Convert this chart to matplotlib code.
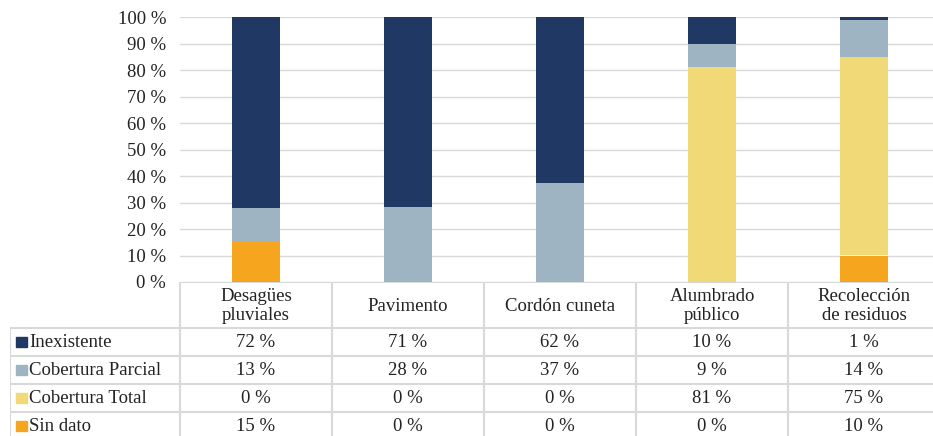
import matplotlib
matplotlib.use("Agg")
import matplotlib.pyplot as plt
import matplotlib.patches as mpatches
import numpy as np

plt.rcParams["font.family"] = ["Liberation Serif", "DejaVu Serif"]

categories = ["Desagües\npluviales", "Pavimento", "Cordón cuneta",
              "Alumbrado\npúblico", "Recolección\nde residuos"]
series = ["Inexistente", "Cobertura Parcial", "Cobertura Total", "Sin dato"]
inexistente = [72, 71, 62, 10, 1]
parcial = [13, 28, 37, 9, 14]
total = [0, 0, 0, 81, 75]
sin_dato = [15, 0, 0, 0, 10]
colors = ["#203864", "#9fb4c3", "#f1d977", "#f6a51e"]

table_vals = [inexistente, parcial, total, sin_dato]
data = np.array(table_vals, dtype=float)
pct = data / data.sum(axis=0) * 100  # 100 % apilado

FS = 13.5
TXT = "#222"
W, H = 933, 436
fig = plt.figure(figsize=(W / 100, H / 100), dpi=100)

# --- gráfico de barras ---
ax = fig.add_axes([180 / W, (H - 282) / H, 760 / W, 265 / H])
x = np.arange(len(categories))
bottom = np.zeros(len(categories))
# orden de apilado: Sin dato abajo, Inexistente arriba
for i in [3, 2, 1, 0]:
    ax.bar(x, pct[i], 0.31, bottom=bottom, color=colors[i], zorder=3)
    bottom += pct[i]

ax.set_xlim(-0.5, 4.5)
ax.set_ylim(0, 100)
ax.set_yticks(range(0, 101, 10))
ax.set_yticklabels([f"{v} %" for v in range(0, 101, 10)], fontsize=FS, color=TXT)
ax.set_xticks([])
ax.tick_params(axis="y", length=0, pad=10)
ax.grid(axis="y", color="#d9d9d9", lw=1, zorder=0)
for s in ax.spines.values():
    s.set_visible(False)

# --- tabla de datos ---
left = -0.5 - 170 / 152
tab = fig.add_axes([10 / W, (H - 440) / H, 930 / W, 158 / H])
tab.set_xlim(left, 4.5)
tab.set_ylim(440, 282)
tab.axis("off")

rows = [282, 328, 356, 384, 412, 440]
gc = "#d9d9d9"
tab.plot([-0.5, 4.5], [rows[0], rows[0]], color=gc, lw=1.5)
for r in rows[1:]:
    tab.plot([left, 4.5], [r, r], color=gc, lw=1.5)
tab.plot([left, left], [rows[1], rows[-1]], color=gc, lw=1.5)
for k in range(6):
    tab.plot([k - 0.5, k - 0.5], [rows[0], rows[-1]], color=gc, lw=1.5)

for j, cat in enumerate(categories):
    tab.text(j, (rows[0] + rows[1]) / 2 + 1, cat, ha="center", va="center",
             fontsize=FS, linespacing=1.12, color=TXT)

for i, name in enumerate(series):
    yc = (rows[i + 1] + rows[i + 2]) / 2
    tab.add_patch(mpatches.Rectangle((left + 6 / 152, yc - 5), 11 / 152, 10,
                                     color=colors[i]))
    tab.text(left + 19 / 152, yc, name, ha="left", va="center",
             fontsize=FS, color=TXT)
    for j in range(len(categories)):
        tab.text(j, yc, f"{table_vals[i][j]} %", ha="center", va="center",
                 fontsize=FS, color=TXT)

fig.savefig("out.png", dpi=100)
